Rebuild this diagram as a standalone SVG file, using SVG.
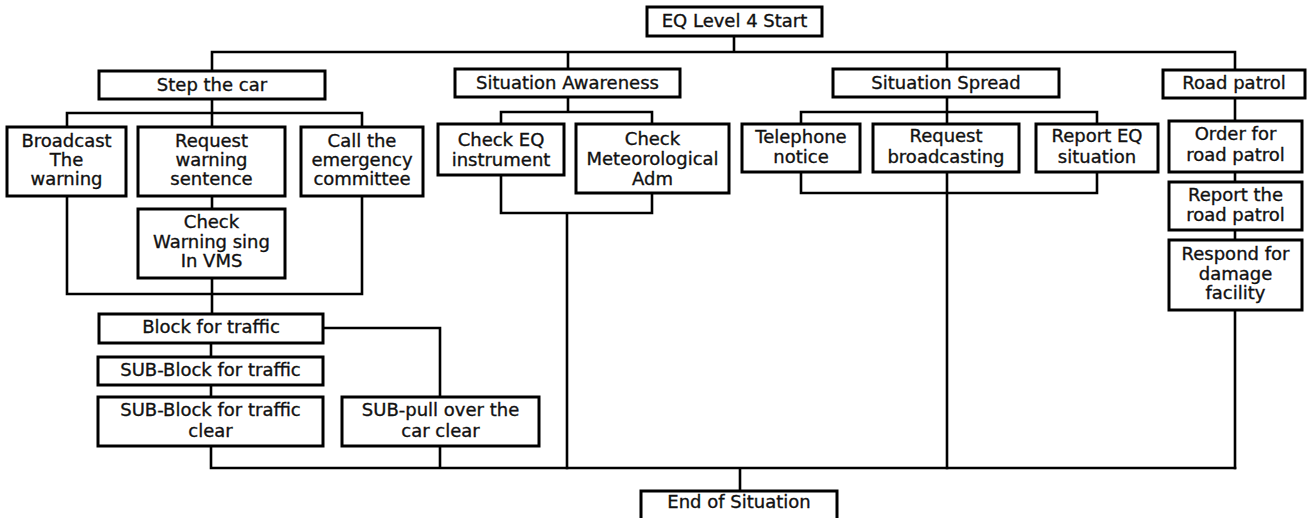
<svg xmlns="http://www.w3.org/2000/svg" width="1312" height="518" viewBox="0 0 1312 518">
<style>
.box{fill:#fff;stroke:#000;stroke-width:3}
.ln{fill:none;stroke:#000;stroke-width:2.6;stroke-linecap:square;stroke-linejoin:miter}
text{font-family:"DejaVu Sans",sans-serif;font-size:18px;fill:#111;stroke:#111;stroke-width:0.35;text-anchor:middle}
</style>
<rect width="1312" height="518" fill="#fff"/>
<g id="connectors">
<path class="ln" d="M734 36V52M212 52H1235M212 52V71M568 52V70M947 52V70M1235 52V70"/>
<path class="ln" d="M212 99V113M67 113H362M67 113V127M212 113V127M362 113V127"/>
<path class="ln" d="M212 196V209M67 196V294H362V196M212 278V314"/>
<path class="ln" d="M323 328H440V397M211 343V357M211 385V397M211 446V468H1235M440 446V468M740 468V491"/>
<path class="ln" d="M568 97V112M501 112H652M501 112V124M652 112V124M501 175V213H652V193M567 213V468"/>
<path class="ln" d="M947 97V112M801 112H1097M801 112V124M947 112V124M1097 112V124M801 172V193H1097V172M947 172V468"/>
<path class="ln" d="M1235 98V121M1235 172V182M1235 230V240M1235 310V468"/>
</g>
<g id="n-start"><rect class="box" x="647" y="7" width="175" height="29"/><text x="734.5" y="27">EQ Level 4 Start</text></g>
<g id="n-step"><rect class="box" x="99" y="71" width="226" height="28"/><text x="212" y="91">Step the car</text></g>
<g id="n-aware"><rect class="box" x="455" y="69" width="225" height="28"/><text x="567.5" y="89">Situation Awareness</text></g>
<g id="n-spread"><rect class="box" x="833" y="69" width="226" height="28"/><text x="946" y="89">Situation Spread</text></g>
<g id="n-patrol"><rect class="box" x="1163" y="70" width="142" height="28"/><text x="1234" y="89">Road patrol</text></g>
<g id="n-broadcast"><rect class="box" x="7" y="127" width="119" height="69"/><text x="66.5" y="147">Broadcast</text><text x="66.5" y="166">The</text><text x="66.5" y="185">warning</text></g>
<g id="n-request"><rect class="box" x="138" y="127" width="147" height="69"/><text x="211.5" y="147">Request</text><text x="211.5" y="166">warning</text><text x="211.5" y="185">sentence</text></g>
<g id="n-call"><rect class="box" x="301" y="127" width="122" height="69"/><text x="362" y="147">Call the</text><text x="362" y="166">emergency</text><text x="362" y="185">committee</text></g>
<g id="n-vms"><rect class="box" x="138" y="209" width="147" height="69"/><text x="211.5" y="228">Check</text><text x="211.5" y="248">Warning sing</text><text x="211.5" y="267">In VMS</text></g>
<g id="n-checkeq"><rect class="box" x="438" y="124" width="126" height="51"/><text x="501" y="146">Check EQ</text><text x="501" y="166">instrument</text></g>
<g id="n-meteo"><rect class="box" x="576" y="124" width="153" height="69"/><text x="652.5" y="145">Check</text><text x="652.5" y="165">Meteorological</text><text x="652.5" y="185">Adm</text></g>
<g id="n-tel"><rect class="box" x="742" y="124" width="118" height="48"/><text x="801" y="143">Telephone</text><text x="801" y="163">notice</text></g>
<g id="n-reqbc"><rect class="box" x="873" y="124" width="146" height="48"/><text x="946" y="142">Request</text><text x="946" y="163">broadcasting</text></g>
<g id="n-repeq"><rect class="box" x="1036" y="124" width="122" height="48"/><text x="1097" y="142">Report EQ</text><text x="1097" y="163">situation</text></g>
<g id="n-order"><rect class="box" x="1169" y="121" width="133" height="51"/><text x="1235.5" y="140">Order for</text><text x="1235.5" y="161">road patrol</text></g>
<g id="n-report"><rect class="box" x="1169" y="182" width="133" height="48"/><text x="1235.5" y="201">Report the</text><text x="1235.5" y="221">road patrol</text></g>
<g id="n-respond"><rect class="box" x="1169" y="240" width="133" height="70"/><text x="1235.5" y="260">Respond for</text><text x="1235.5" y="280">damage</text><text x="1235.5" y="299">facility</text></g>
<g id="n-block"><rect class="box" x="99" y="314" width="224" height="29"/><text x="211" y="333">Block for traffic</text></g>
<g id="n-subblock"><rect class="box" x="98" y="357" width="225" height="28"/><text x="210.5" y="376">SUB-Block for traffic</text></g>
<g id="n-subclear"><rect class="box" x="98" y="397" width="225" height="49"/><text x="210.5" y="416">SUB-Block for traffic</text><text x="210.5" y="437">clear</text></g>
<g id="n-subpull"><rect class="box" x="342" y="397" width="197" height="49"/><text x="440.5" y="416">SUB-pull over the</text><text x="440.5" y="437">car clear</text></g>
<g id="n-end"><rect class="box" x="641" y="491" width="196" height="31"/><text x="739" y="508">End of Situation</text></g>
</svg>
